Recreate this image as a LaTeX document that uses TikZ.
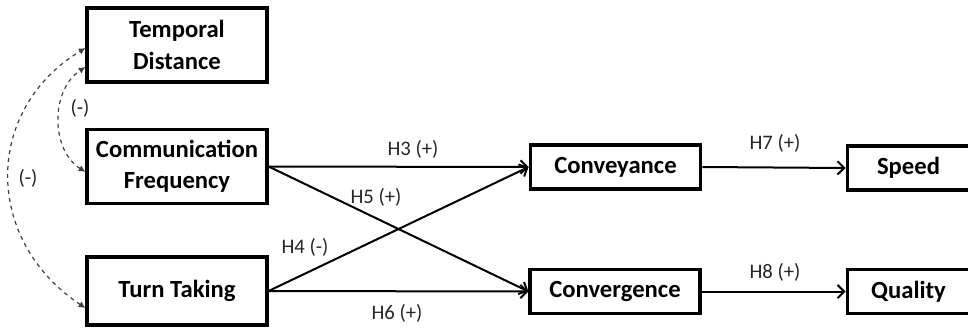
\documentclass[tikz,border=0pt]{standalone}
\usepackage{fontspec}
\setmainfont{Carlito}
\usetikzlibrary{arrows.meta}
\begin{document}
\begin{tikzpicture}[x=0.75pt,y=-0.75pt,
  box/.style={draw,line width=2.4pt,inner sep=0pt,align=center,
    font=\fontsize{18.5}{23.5}\selectfont\bfseries},
  lab/.style={font=\fontsize{15.5}{18}\selectfont,text=black!85},
  link/.style={line width=1.5pt,-{Straight Barb[length=5pt,width=10pt,line width=1.5pt]}},
  corr/.style={dashed,line width=0.9pt,draw=black!75,{Latex[length=5pt,width=5pt]}-{Latex[length=5pt,width=5pt]}}]
\useasboundingbox (0,0) rectangle (968,329);
\clip (0,0) rectangle (968,329);
\node[box,minimum width=135pt,minimum height=55.5pt] (td) at (177,45) {Temporal\\Distance};
\node[box,minimum width=135pt,minimum height=55pt] (cf) at (177,166.5) {Communication\\Frequency};
\node[box,minimum width=135pt,minimum height=51pt] (tt) at (177,291) {Turn Taking};
\node[box,minimum width=128pt,minimum height=33pt] (cv) at (615.5,167) {Conveyance};
\node[box,minimum width=127.5pt,minimum height=32.5pt] (cg) at (615,291.5) {Convergence};
\node[box,minimum width=92pt,minimum height=33pt] (sp) at (908.5,168) {Speed};
\node[box,minimum width=92pt,minimum height=32.5pt] (ql) at (908.5,291.5) {Quality};
\draw[link] (cf.east) -- (cv.west);
\draw[link] (cf.east) -- (cg.west);
\draw[link] (tt.east) -- (cv.west);
\draw[link] (tt.east) -- (cg.west);
\draw[link] (cv.east) -- (sp.west);
\draw[link] (cg.east) -- (ql.west);
\draw[corr] ([yshift=-4pt]cf.west) .. controls +(-35,-22) and +(-35,23) .. ([yshift=-16.5pt]td.west);
\draw[corr] ([yshift=-12.75pt]tt.west) .. controls +(-102,-68) and +(-102,62) .. ([yshift=-2.25pt]td.west);
\node[lab] (l1) at (80,108) {(-)};
\node[lab] (l2) at (28,178) {(-)};
\node[lab] (h3) at (413,149) {H3 (+)};
\node[lab] (h5) at (376,197) {H5 (+)};
\node[lab] (h4) at (305,247) {H4 (-)};
\node[lab] (h6) at (397,313) {H6 (+)};
\node[lab] (h7) at (775,143) {H7 (+)};
\node[lab] (h8) at (775,272) {H8 (+)};
\end{tikzpicture}
\end{document}
